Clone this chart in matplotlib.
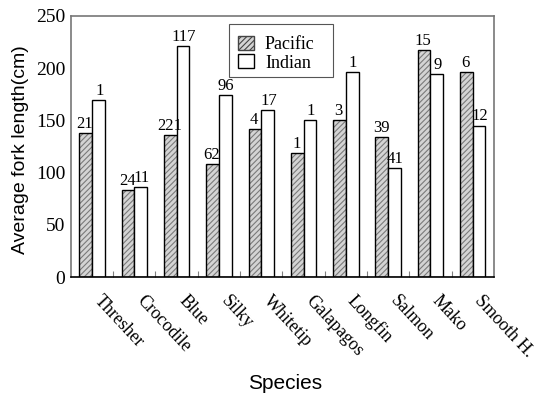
import matplotlib
matplotlib.use("Agg")
import matplotlib.pyplot as plt
import matplotlib.transforms as mtransforms
import numpy as np
from matplotlib.patches import Patch, Rectangle

species = ["Thresher", "Crocodile", "Blue", "Silky", "Whitetip", "Galapagos",
           "Longfin", "Salmon", "Mako", "Smooth H."]
pacific = [138, 83, 136, 108, 142, 119, 150, 134, 217, 196]
indian = [169, 86, 221, 174, 160, 150, 196, 104, 194, 145]
pacific_n = [21, 24, 221, 62, 4, 1, 3, 39, 15, 6]
indian_n = [1, 11, 117, 96, 17, 1, 1, 41, 9, 12]
yticks = [0, 50, 100, 150, 200, 250]

serif = "Liberation Serif"
sans = "Liberation Sans"
plt.rcParams["hatch.linewidth"] = 0.8

fig = plt.figure(figsize=(5.41, 3.96), dpi=100)
ax = fig.add_axes([0.131, 0.3005, 0.782, 0.6595])

x = np.arange(len(species))
w = 0.3
# hatched Pacific bars
ax.bar(x - w / 2, pacific, width=w, facecolor="#d4d4d4", edgecolor="#7a7a7a",
       hatch="//////", linewidth=0)
ax.bar(x - w / 2, pacific, width=w, facecolor="none", edgecolor="black", linewidth=1.0)
ax.bar(x + w / 2, indian, width=w, facecolor="white", edgecolor="black", linewidth=1.0)

for xi, v, n in zip(x - w / 2, pacific, pacific_n):
    ax.text(xi - 0.02, v + 1.0, str(n), ha="center", va="bottom", fontsize=12, family=serif)
for xi, v, n in zip(x + w / 2, indian, indian_n):
    ax.text(xi + 0.02, v + 1.0, str(n), ha="center", va="bottom", fontsize=12, family=serif)

ax.set_xlim(-0.5, len(species) - 0.5)
ax.set_ylim(0, 250)
ax.set_yticks(yticks)
ax.set_yticklabels([str(t) for t in yticks], family=serif, fontsize=14)
ax.tick_params(axis="y", length=0, pad=4)

ax.set_xticks(x)
ax.set_xticklabels(species, rotation=-47, ha="left", rotation_mode="anchor",
                   family=serif, fontsize=13)
ax.tick_params(axis="x", length=0, pad=11)
offset = mtransforms.ScaledTranslation(11 / 100, 0, fig.dpi_scale_trans)
for lab in ax.get_xticklabels():
    lab.set_transform(lab.get_transform() + offset)
ax.set_xticks(np.arange(0.5, len(species) - 0.5, 1), minor=True)
ax.tick_params(axis="x", which="minor", direction="in", length=4, color="#808080", width=0.8)

for s in ["left", "right", "top"]:
    ax.spines[s].set_color("#777777")
    ax.spines[s].set_linewidth(1.2)
ax.spines["bottom"].set_color("black")
ax.spines["bottom"].set_linewidth(1.2)

ax.set_ylabel("Average fork length(cm)", family=sans, fontsize=14, va="center")
ax.yaxis.set_label_coords(-0.12, 0.487)
ax.set_xlabel("Species", family=sans, fontsize=15, va="center")
ax.xaxis.set_label_coords(0.506, -0.406)

handles = [Patch(facecolor="#d4d4d4", edgecolor="#444444", hatch="//////", label="Pacific"),
           Patch(facecolor="white", edgecolor="black", label="Indian")]
leg = ax.legend(handles=handles, loc="upper left", bbox_to_anchor=(0.3735, 0.958),
                borderaxespad=0, prop={"family": serif, "size": 13}, frameon=False,
                handlelength=0.9, handleheight=0.8,
                handletextpad=0.6, borderpad=0.5, labelspacing=0.08)
frame = Rectangle((0.3735, 0.766), 0.2455, 0.203, transform=ax.transAxes,
                  facecolor="white", edgecolor="#555555", linewidth=0.8, zorder=4)
ax.add_patch(frame)
leg.set_zorder(5)

fig.savefig("out.png", dpi=100)
